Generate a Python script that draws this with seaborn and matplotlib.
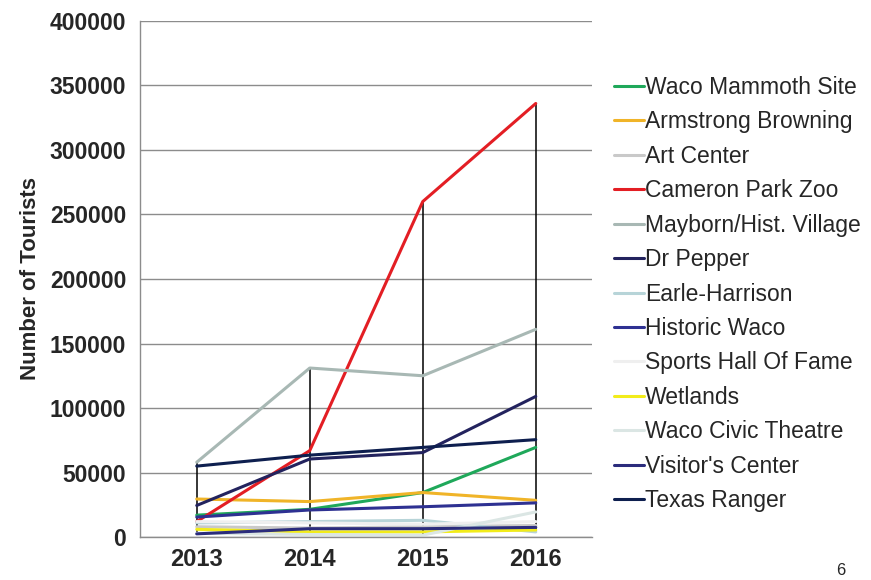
import matplotlib
matplotlib.use('Agg')
import matplotlib.pyplot as plt
import numpy as np
import pandas as pd
import seaborn as sns

# data
years = [2013, 2014, 2015, 2016]
sites = ['Waco Mammoth Site', 'Armstrong Browning', 'Art Center', 'Cameron Park Zoo',
         'Mayborn/Hist. Village', 'Dr Pepper', 'Earle-Harrison', 'Historic Waco',
         'Sports Hall Of Fame', 'Wetlands', 'Waco Civic Theatre', "Visitor's Center",
         'Texas Ranger']
mammoth = [17000, 21500, 34500, 69500]
armstrong = [29500, 27500, 34500, 28500]
art_center = [8000, 7000, 8000, 9000]
zoo = [12000, 67000, 260000, 336000]
mayborn = [58000, 131000, 125000, 161000]
dr_pepper = [24500, 60500, 65500, 109000]
earle = [11000, 12000, 13000, 4000]
historic = [15500, 21000, 23500, 26500]
sports = [12000, 11000, 10000, 12000]
wetlands = [6000, 4000, 4000, 5500]
civic = [3000, 2000, 1500, 19500]
visitor = [2500, 6500, 6500, 7500]
ranger = [55000, 63500, 69500, 75500]

colors = ['#1fa85a', '#f0b428', '#c9c9c9', '#e31e24', '#a8b8b4', '#23235e',
          '#b7d4d8', '#2e3192', '#efefef', '#f2ec1a', '#dbe6e4', '#2b2c7c', '#0e1f4f']

values = [mammoth, armstrong, art_center, zoo, mayborn, dr_pepper, earle,
          historic, sports, wetlands, civic, visitor, ranger]

rows = []
for name, vals in zip(sites, values):
    for yr, v in zip(years, vals):
        rows.append({'year': yr, 'site': name, 'tourists': v})
df = pd.DataFrame(rows)

sns.set_style('white')
plt.rcParams['font.family'] = ['Liberation Sans', 'DejaVu Sans']

fig = plt.figure(figsize=(8.71, 5.8), dpi=100)
ax = fig.add_axes([0.161, 0.074, 0.519, 0.890])

# high-low lines between the max and min series at each year
wide = df.pivot(index='year', columns='site', values='tourists')
ax.vlines(wide.index, wide.min(axis=1), wide.max(axis=1), color='black',
          linewidth=1.1, zorder=1.5)

sns.lineplot(data=df, x='year', y='tourists', hue='site', hue_order=sites,
             palette=dict(zip(sites, colors)), linewidth=2.2, ax=ax, zorder=2)

ax.set_xlim(2012.5, 2016.5)
ax.set_ylim(0, 400000)
ax.set_xticks(years)
ax.set_yticks(np.arange(0, 400001, 50000))
ax.yaxis.grid(True, color='#8c8c8c', linewidth=1.0)
ax.set_axisbelow(True)
for s in ['top', 'right']:
    ax.spines[s].set_visible(False)
for s in ['left', 'bottom']:
    ax.spines[s].set_color('#8c8c8c')
    ax.spines[s].set_linewidth(1.0)
ax.tick_params(axis='y', length=6, color='#8c8c8c', width=1.0, pad=4)
ax.tick_params(axis='x', length=0, pad=8)
for lbl in ax.get_yticklabels():
    lbl.set_fontsize(16.5)
    lbl.set_fontweight('bold')
for lbl in ax.get_xticklabels():
    lbl.set_fontsize(17)
    lbl.set_fontweight('bold')
ax.set_xlabel('')
ax.set_ylabel('Number of Tourists', fontsize=16, fontweight='bold', labelpad=6)

handles, labels = ax.get_legend_handles_labels()
ax.legend(handles, labels, loc='center left', bbox_to_anchor=(0.692, 0.493),
          bbox_transform=fig.transFigure, frameon=False, fontsize=16.5,
          handlelength=1.3, handletextpad=0.05, labelspacing=0.5, borderpad=0)

fig.text(0.965, 0.004, '6', fontsize=12, ha='center', va='bottom')

fig.savefig('out.png', dpi=100)
